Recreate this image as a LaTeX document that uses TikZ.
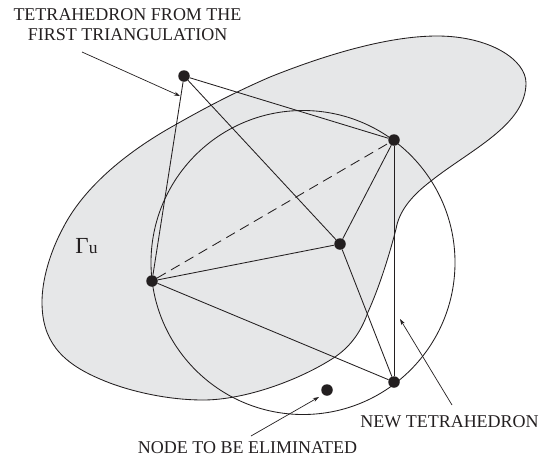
\documentclass[tikz,border=0pt]{standalone}
\usepackage{fontspec}
\setmainfont{Liberation Serif}
\usetikzlibrary{arrows.meta}
\definecolor{ink}{HTML}{231F20}
\definecolor{blobgrey}{HTML}{E6E7E8}
\tikzset{
  vertex/.style={circle,fill=ink,inner sep=0pt,minimum size=11.5pt},
  edge/.style={draw=ink,line width=0.85pt},
  pointer/.style={draw=ink,line width=0.7pt,-{Stealth[length=6pt,width=4pt]}},
  lab/.style={text=ink,inner sep=0pt,font=\fontsize{18pt}{20pt}\selectfont,align=center}
}
\begin{document}
\begin{tikzpicture}[x=1pt,y=-1pt]
\useasboundingbox (0,0) rectangle (540,459);
\draw[draw=ink,line width=0.85pt,fill=blobgrey]
  (437,36) .. controls (490,36) and (526,60) .. (526,83)
  .. controls (526,125) and (470,150) .. (431,181)
  .. controls (410,197) and (399,212) .. (396,229)
  .. controls (388,260) and (378,290) .. (368,312)
  .. controls (360,335) and (348,348) .. (335,357)
  .. controls (300,380) and (245,400) .. (203,400)
  .. controls (165,400) and (125,390) .. (100,379)
  .. controls (60,362) and (42,340) .. (42,302)
  .. controls (42,280) and (50,252) .. (63,228)
  .. controls (85,185) and (130,150) .. (175,125)
  .. controls (210,105) and (240,90) .. (270,77)
  .. controls (320,57) and (385,36) .. (437,36) -- cycle;
\draw[edge] (303,262.5) circle[radius=152];
\node[vertex] (a) at (184,76) {};
\node[vertex] (b) at (394,140) {};
\node[vertex] (c) at (340,244) {};
\node[vertex] (d) at (152,281) {};
\node[vertex] (e) at (394,382) {};
\node[vertex] (f) at (327,390) {};
\draw[edge] (a) -- (b);
\draw[edge] (a) -- (c);
\draw[edge] (a) -- (d);
\draw[edge] (b) -- (c);
\draw[edge] (b) -- (e);
\draw[edge] (c) -- (d);
\draw[edge] (c) -- (e);
\draw[edge] (d) -- (e);
\draw[edge,dash pattern=on 10pt off 6pt] (d) -- (b);
\node[lab] (t1) at (127.5,25) {TETRAHEDRON FROM THE\\FIRST TRIANGULATION};
\node[lab] (t2) at (449.5,422) {NEW TETRAHEDRON};
\node[lab] (t3) at (247.5,448) {NODE TO BE ELIMINATED};
\node[text=ink,inner sep=0pt] (gamma) at (86.5,246) {\fontsize{23pt}{24pt}\selectfont Γ\fontsize{17.5pt}{20pt}\selectfont u};
\coordinate (p1) at (82,52);
\coordinate (q1) at (180,96);
\coordinate (p2) at (452,405);
\coordinate (q2) at (400,319);
\coordinate (p3) at (251,436);
\coordinate (q3) at (319,397);
\draw[pointer] (p1) -- (q1);
\draw[pointer] (p2) -- (q2);
\draw[pointer] (p3) -- (q3);
\end{tikzpicture}
\end{document}
